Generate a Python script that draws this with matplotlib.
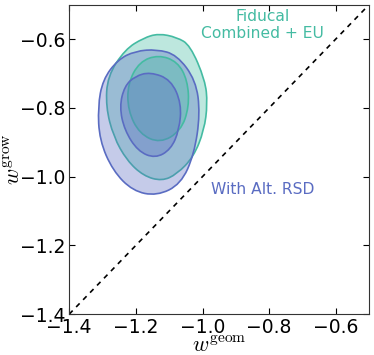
import numpy as np
import matplotlib
matplotlib.use('Agg')
import matplotlib.pyplot as plt
from matplotlib.path import Path
from matplotlib.patches import PathPatch

plt.rcParams['mathtext.fontset'] = 'cm'

# Contour outlines (w_geom, w_grow)
fid_2s_x = [-1.132, -1.077, -1.037, -0.992, -0.985, -0.995, -1.027, -1.077, -1.122,
            -1.177, -1.227, -1.267, -1.290, -1.285, -1.232, -1.177]
fid_2s_y = [-0.584, -0.595, -0.618, -0.720, -0.788, -0.865, -0.943, -0.993, -1.013,
            -0.998, -0.953, -0.884, -0.797, -0.708, -0.630, -0.597]
fid_1s_x = [-1.132, -1.075, -1.045, -1.040, -1.065, -1.127, -1.189, -1.224, -1.224, -1.189]
fid_1s_y = [-0.646, -0.666, -0.720, -0.797, -0.867, -0.903, -0.876, -0.807, -0.729, -0.666]
alt_2s_x = [-1.137, -1.077, -1.020, -1.007, -1.025, -1.065, -1.137, -1.209, -1.269,
            -1.309, -1.314, -1.299, -1.254, -1.202]
alt_2s_y = [-0.630, -0.646, -0.720, -0.817, -0.935, -1.022, -1.056, -1.042, -0.983,
            -0.894, -0.797, -0.718, -0.660, -0.635]
alt_1s_x = [-1.157, -1.095, -1.063, -1.070, -1.095, -1.142, -1.194, -1.234, -1.249,
            -1.234, -1.202]
alt_1s_y = [-0.696, -0.718, -0.788, -0.865, -0.921, -0.947, -0.926, -0.865, -0.797,
            -0.737, -0.708]

teal = '#44bba2'
blue = '#5a6cc2'


def smooth_path(xs, ys):
    # closed quadratic-Bezier path with the outline points as control points
    pts = np.column_stack([xs, ys])
    mids = 0.5 * (pts + np.roll(pts, -1, axis=0))
    verts = [mids[-1]]
    codes = [Path.MOVETO]
    for p, m in zip(pts, mids):
        verts += [p, m]
        codes += [Path.CURVE3, Path.CURVE3]
    return Path(verts, codes)


fig = plt.figure(figsize=(3.74, 3.55), dpi=100)
ax = fig.add_axes([0.185, 0.115, 0.802, 0.872])

for xs, ys, c in [(fid_2s_x, fid_2s_y, teal), (alt_2s_x, alt_2s_y, blue),
                  (fid_1s_x, fid_1s_y, teal), (alt_1s_x, alt_1s_y, blue)]:
    path = smooth_path(xs, ys)
    ax.add_patch(PathPatch(path, facecolor=c, alpha=0.35, edgecolor='none'))
    ax.add_patch(PathPatch(path, facecolor='none', edgecolor=c, lw=1.2))

ax.plot([-1.4, -0.5], [-1.4, -0.5], 'k--', lw=1.2, dashes=(3, 3))

ax.text(-0.82, -0.534, 'Fiducal', color=teal, fontsize=11.2, ha='center', va='center')
ax.text(-0.82, -0.583, 'Combined + EU', color=teal, fontsize=11.2, ha='center', va='center')
ax.text(-0.82, -1.037, 'With Alt. RSD', color=blue, fontsize=11.2, ha='center', va='center')

ax.set_xlim(-1.4, -0.5)
ax.set_ylim(-1.4, -0.5)
ax.set_xticks([-1.4, -1.2, -1.0, -0.8, -0.6])
ax.set_yticks([-1.4, -1.2, -1.0, -0.8, -0.6])
ax.tick_params(direction='in', top=True, right=True, labelsize=13.5, length=4, pad=3)
for s in ax.spines.values():
    s.set_color('#333333')

ax.set_xlabel(r'$w^{\rm geom}$', fontsize=16, labelpad=-1)
ax.set_ylabel(r'$w^{\rm grow}$', fontsize=16, labelpad=-3)

fig.savefig('out.png', dpi=100)
